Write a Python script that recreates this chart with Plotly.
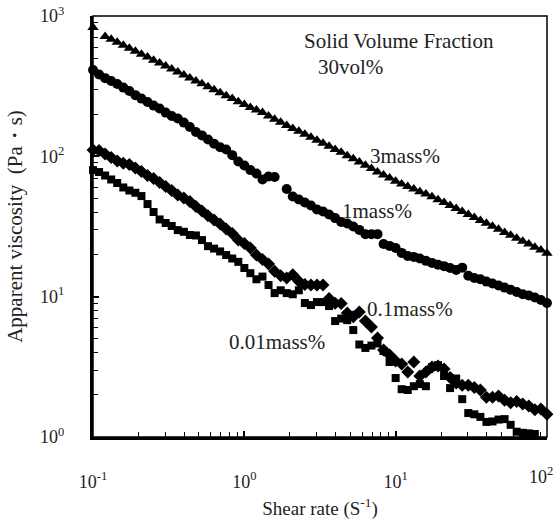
import plotly.graph_objects as go

# Shear rate (1/s)
shear_rate = [
    0.1, 0.1096, 0.1202, 0.1318, 0.1445, 0.1585, 0.1738, 0.1905, 0.2089, 0.2291,
    0.2512, 0.2754, 0.302, 0.3311, 0.3631, 0.3981, 0.4365, 0.4786, 0.5248, 0.5754,
    0.631, 0.6918, 0.7586, 0.8318, 0.912,
    1.0, 1.096, 1.202, 1.318, 1.445, 1.585, 1.738, 1.905, 2.089, 2.291,
    2.512, 2.754, 3.02, 3.311, 3.631, 3.981, 4.365, 4.786, 5.248, 5.754,
    6.31, 6.918, 7.586, 8.318, 9.12,
    10.0, 10.96, 12.02, 13.18, 14.45, 15.85, 17.38, 19.05, 20.89, 22.91,
    25.12, 27.54, 30.2, 33.11, 36.31, 39.81, 43.65, 47.86, 52.48, 57.54,
    63.1, 69.18, 75.86, 83.18, 91.2, 100.0,
]

# Apparent viscosity (Pa·s)
visc_3mass = [
    830, None, 716, 682, 650, 619, 589, 562, 535, 510,
    485, 462, 440, 419, 399, 380, 362, 345, 329, 313,
    298, 284, 270, 258, 245, 234, 223, 214, 205, 194,
    184, 175, 166, 158, 151, 144, 137, 130, 124, 118,
    112, 107, 101, 96.0, 91.0, 86.5, 82.0, 77.5, 73.5, 70.0,
    66.5, 63.5, 61.0, 58.5, 56.0, 53.8, 51.5, 49.0, 46.8, 44.6,
    42.5, 40.4, 38.5, 36.7, 34.9, 33.3, 31.7, 30.2, 28.7, 27.4,
    26.1, 24.8, 23.7, 22.5, 21.5, 20.4,
]
visc_1mass = [
    412, 383, 361, 344, 328, 309, 292, 273, 258, 244,
    230, 219, 205, 194, 186, 174, 162, 149, 141, 132,
    123, 116, 112, 102, 91.8, 86.0, 79.8, 75.4, 68.3, 71.8,
    71.2, None, 58.5, 51.7, 49.2, 46.9, 44.6, 41.8, 40.5, 38.5,
    36.3, 34.0, 33.2, 31.6, 29.9, 27.9, 27.9, 27.9, 23.7, 23.0,
    22.2, 20.5, 19.5, 19.2, 18.7, 18.0, 17.4, 16.9, 16.5, 16.0,
    15.5, 16.1, 14.1, 13.6, 13.3, 12.8, 12.4, 12.0, 11.6, 11.2,
    10.8, 10.4, 10.2, 9.86, 9.46, 9.0,
]
visc_01mass = [
    111, 110, 104, 98.0, 92.6, 89.2, 87.5, 82.6, 78.0, 73.0,
    69.5, 65.1, 61.0, 57.1, 53.0, 50.5, 47.7, 43.9, 40.7, 37.8,
    35.2, 32.9, 30.3, 28.2, 25.3, 23.9, 22.2, 19.8, 18.4, 17.1,
    15.2, 14.1, 13.6, 14.3, 12.9, 12.2, 12.1, 12.1, 12.1, 9.7,
    8.96, 8.93, 7.64, 7.19, 7.77, 6.70, 6.07, 5.07, 4.16, 3.84,
    3.48, 3.31, 2.90, 3.42, 2.72, 2.90, 3.15, 3.20, 3.05, 2.65,
    2.42, 2.34, 2.34, 2.25, 2.16, 1.92, 1.92, 1.96, 1.83, 1.75,
    1.79, 1.72, 1.66, 1.56, 1.58, 1.45,
]
visc_001mass = [
    79.8, 77.3, 73.0, 68.4, 64.6, 60.0, 57.1, 55.0, 52.1, 45.7,
    40.1, 35.5, 33.5, 31.9, 29.8, 29.0, 27.5, 27.3, 25.3, 22.9,
    22.0, 21.0, 19.8, 18.7, 17.7, 16.0, 14.7, 13.3, 13.9, 12.1,
    10.6, 11.1, 10.6, 10.4, 11.1, 9.0, 8.71, 9.15, 9.15, 8.57,
    6.70, 6.98, 6.80, 5.78, 4.56, 4.31, 4.48, 4.64, 4.10, 3.42,
    2.63, 2.19, 2.16, 2.30, 2.38, 2.30, 3.15, 3.25, 2.72, 2.23,
    2.61, 1.86, 1.48, 1.45, 1.39, 1.28, 1.29, 1.33, 1.34, 1.22,
    1.09, 1.07, 1.06, 1.05, None, None,
]

series = [
    ("3mass%", visc_3mass, "triangle-up", 10),
    ("1mass%", visc_1mass, "circle", 10),
    ("0.1mass%", visc_01mass, "diamond", 10),
    ("0.01mass%", visc_001mass, "square", 8),
]

x_tickvals = [0.1, 1, 10, 100]
x_ticktext = ["10<sup>-1</sup>", "10<sup>0</sup>", "10<sup>1</sup>", ""]
x_last_label = "10<sup>2</sup>"   # drawn separately so it stays inside the page
y_tickvals = [1, 10, 100, 1000]
y_ticktext = ["10<sup>0</sup>", "10<sup>1</sup>", "10<sup>2</sup>", "10<sup>3</sup>"]

FONT = "Liberation Serif"
TXT = "#222"

fig = go.Figure()
for name, vals, sym, size in series:
    fig.add_trace(go.Scatter(
        x=shear_rate, y=vals, mode="markers", name=name,
        marker=dict(symbol=sym, size=size, color="black", line=dict(width=0)),
        showlegend=False, cliponaxis=False,
    ))

axis_common = dict(
    type="log", showgrid=False, zeroline=False, automargin=False,
    showline=True, linecolor="black", linewidth=3,
    ticks="inside", ticklen=6, tickwidth=1.5, tickcolor="black",
    minor=dict(ticks="inside", ticklen=5, tickwidth=1.2, tickcolor="black",
               dtick="D1", showgrid=False),
    tickfont=dict(family=FONT, size=18, color=TXT),
    ticklabeloverflow="allow",
)

fig.update_xaxes(**axis_common, range=[-1.0003, 2.0003], tickmode="array",
                 tickvals=x_tickvals, ticktext=x_ticktext, ticklabelstandoff=26,
                 title=dict(text="Shear rate (S<sup>-1</sup>)",
                            font=dict(family=FONT, size=19, color=TXT), standoff=12))
fig.update_yaxes(**axis_common, range=[-0.0003, 3.0003], tickmode="array",
                 tickvals=y_tickvals, ticktext=y_ticktext, ticklabelstandoff=22,
                 title=dict(text="Apparent viscosity  (Pa・s)",
                            font=dict(family=FONT, size=21, color=TXT), standoff=12))

fig.add_shape(type="rect", xref="paper", yref="paper", x0=0, y0=0, x1=1, y1=1,
              line=dict(color="black", width=1.5), layer="above")

fig.add_annotation(text=x_last_label, x=1.0176, y=-0.0926, xref="paper", yref="paper",
                   xanchor="right", yanchor="middle", showarrow=False,
                   font=dict(family=FONT, size=18, color=TXT))

annotations = [
    ("Solid Volume Fraction", 0.460, 0.940),
    ("30vol%", 0.491, 0.878),
    ("3mass%", 0.606, 0.667),
    ("1mass%", 0.544, 0.536),
    ("0.1mass%", 0.599, 0.304),
    ("0.01mass%", 0.295, 0.225),
]
for text, ax, ay in annotations:
    fig.add_annotation(text=text, x=ax, y=ay, xref="paper", yref="paper",
                       xanchor="left", yanchor="middle", showarrow=False,
                       font=dict(family=FONT, size=21, color=TXT))

fig.update_layout(
    width=556, height=524,
    margin=dict(l=93, r=9, t=16, b=87),
    plot_bgcolor="white", paper_bgcolor="white",
    font=dict(family=FONT, color=TXT),
)

# remove the browser's default 8px body margin so the figure fills the window
fig.write_html("out.html", config={"displayModeBar": False},
               post_script="document.body.style.margin='0';")
